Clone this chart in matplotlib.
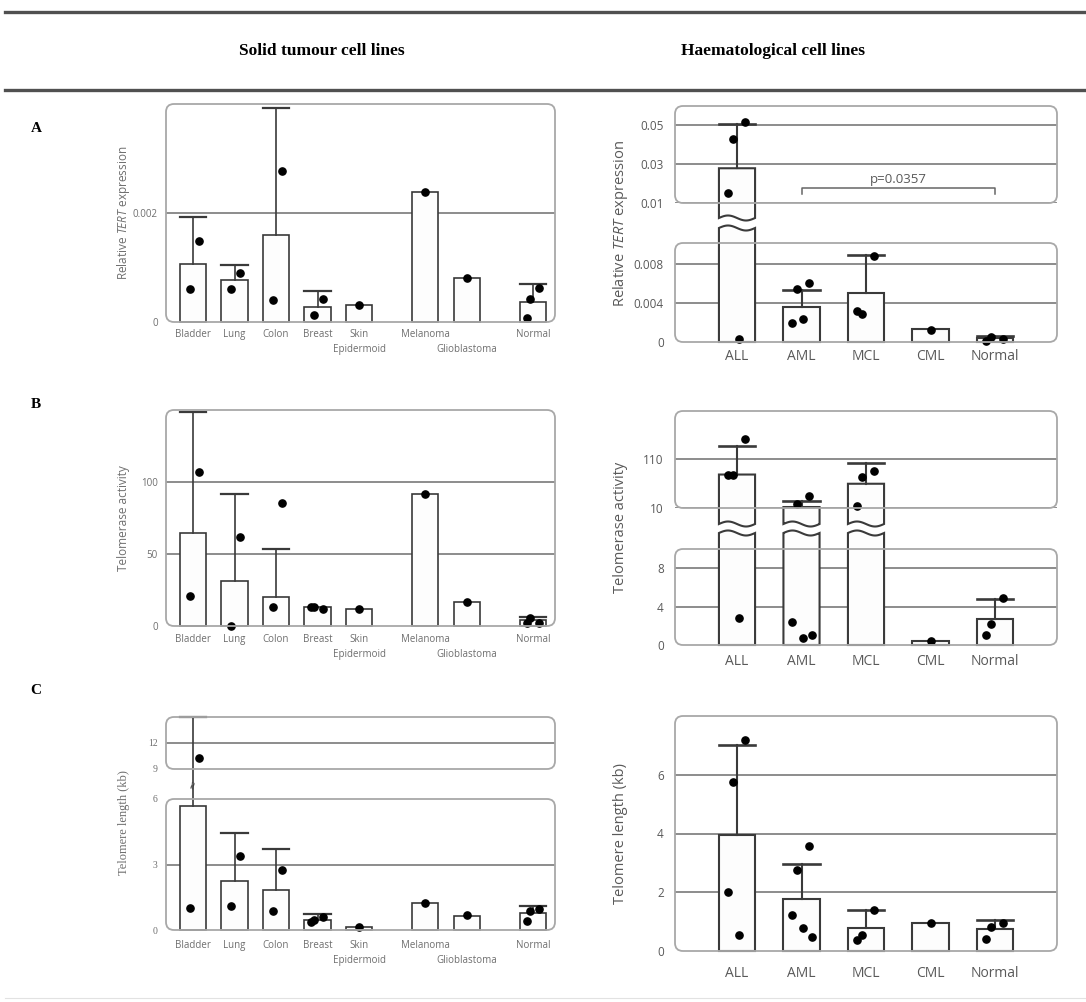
import numpy as np
import matplotlib
matplotlib.use('Agg')
import matplotlib.pyplot as plt
from matplotlib.patches import FancyBboxPatch, Polygon
from matplotlib.lines import Line2D

plt.rcParams['font.family'] = ['Open Sans', 'DejaVu Sans']
plt.rcParams['mathtext.fontset'] = 'custom'
plt.rcParams['mathtext.rm'] = 'Open Sans'
plt.rcParams['mathtext.it'] = 'Open Sans:italic'

# ---- data ----
# second-row labels (staggered in the original) are given after the '|'
solid_labels = ['Bladder', 'Lung', 'Colon', 'Breast', 'Skin|Epidermoid',
                'Melanoma', '|Glioblastoma', 'Normal']
haem_labels = ['ALL', 'AML', 'MCL', 'CML', 'Normal']

# A - relative TERT expression
tert_solid_mean = [0.00106, 0.00077, 0.0016, 0.00027, 0.00031, 0.00239, 0.00081, 0.00037]
tert_solid_sd = [0.00087, 0.00028, 0.00232, 0.00029, 0, 0, 0, 0.00032]
tert_solid_pts = [[0.00149, 0.00061], [0.0009, 0.00061], [0.00277, 0.0004],
                  [0.00042, 0.00012], [0.00031], [0.00239], [0.00081],
                  [0.00062, 0.00042, 0.00007]]
tert_haem_mean = [0.0278, 0.00353, 0.00503, 0.0013, 0.0004]
tert_haem_sd = [0.0226, 0.0018, 0.0038, 0, 0.0002]
tert_haem_pts = [[0.0514, 0.0428, 0.015, 0.00035], [0.00605, 0.00544, 0.0019, 0.0023],
                 [0.0088, 0.00284, 0.00315], [0.00127], [0.0003, 0.0005, 0.0001]]

# B - telomerase activity
act_solid_mean = [64.4, 31.5, 19.9, 13, 11.5, 92, 16.5, 4]
act_solid_sd = [84.4, 60.5, 33.6, 0, 0, 0, 0, 2.5]
act_solid_pts = [[107, 20.8], [62, 0], [85.6, 13], [12, 13, 13.5], [11.5], [92], [16.5],
                 [2, 5.5, 2.3]]
act_haem_mean = [79, 12, 60, 0.45, 2.75]
act_haem_sd = [58.5, 13, 43, 0, 2.05]
act_haem_pts = [[153, 79, 79, 2.8], [34, 19, 2.4, 0.7, 1.0], [86.5, 74, 13.5], [0.4],
                [4.9, 2.2, 1.0]]

# C - telomere length (kb)
len_solid_mean = [5.68, 2.23, 1.82, 0.46, 0.15, 1.24, 0.66, 0.77]
len_solid_sd = [9.32, 2.23, 1.87, 0.28, 0, 0, 0, 0.31]
len_solid_pts = [[10.27, 1.0], [3.38, 1.08], [2.77, 0.85], [0.6, 0.45, 0.35], [0.15],
                 [1.25], [0.7], [0.95, 0.89, 0.43]]
len_haem_mean = [3.96, 1.78, 0.77, 0.97, 0.76]
len_haem_sd = [3.04, 1.19, 0.62, 0, 0.29]
len_haem_pts = [[7.2, 5.77, 2.0, 0.53], [3.58, 2.77, 1.23, 0.77, 0.47],
                [1.39, 0.54, 0.37], [0.97], [0.95, 0.82, 0.41]]

# ---- layout ----
W, H = 1086, 1002
fig = plt.figure(figsize=(W / 100, H / 100), dpi=100)

LEFT_X = (166, 555)
RIGHT_X = (675, 1057)
left_pos = np.array([0, 1, 2, 3, 4, 5.6, 6.6, 8.2])
right_pos = np.arange(5)
left_xlim = ((166 - 193) / 41.5, (555 - 193) / 41.5)
right_xlim = ((675 - 737) / 64.5, (1057 - 737) / 64.5)

GRID = '#8c8c8c'
FRAME = '#a8a8a8'
EDGE = '#3a3a3a'


def add_frame(x0, x1, y0, y1):
    fig.patches.append(FancyBboxPatch(
        (x0 / 100, (H - y1) / 100), (x1 - x0) / 100, (y1 - y0) / 100,
        boxstyle='round,pad=0,rounding_size=0.08', transform=fig.dpi_scale_trans,
        facecolor='none', edgecolor=FRAME, lw=1.3, zorder=0))


def make_seg(xr, y0, y1, ylim, xlim, grid, ticks, labels, size, color, family=None):
    ax = fig.add_axes([xr[0] / W, 1 - y1 / H, (xr[1] - xr[0]) / W, (y1 - y0) / H])
    ax.set_xlim(xlim)
    ax.set_ylim(ylim)
    ax.patch.set_visible(False)
    for s in ax.spines.values():
        s.set_visible(False)
    ax.set_xticks([])
    ax.set_yticks(ticks)
    ax.set_yticklabels(labels)
    ax.tick_params(axis='y', length=0, pad=6 if size < 8 else 8, labelsize=size,
                   labelcolor=color)
    if family:
        for t in ax.get_yticklabels():
            t.set_family(family)
    for g in grid:
        ax.axhline(g, color=GRID, lw=1.4, zorder=1)
    add_frame(xr[0], xr[1], y0, y1)
    return {'ax': ax, 'lo': ylim[0], 'hi': ylim[1], 'dpp': (ylim[1] - ylim[0]) / (y1 - y0)}


def wavy_bar(ax, x, w, yb, yt, wave, amp, lw):
    xs = np.linspace(x - w / 2, x + w / 2, 40)
    wv = amp * np.sin(2 * np.pi * (xs - xs[0]) / w)
    if wave == 'top':
        px = np.concatenate([[x - w / 2, x + w / 2], xs[::-1]])
        py = np.concatenate([[yb, yb], (yt + wv)[::-1]])
    else:
        px = np.concatenate([xs, [x + w / 2, x - w / 2]])
        py = np.concatenate([yb + wv, [yt, yt]])
    ax.add_patch(Polygon(np.column_stack([px, py]), closed=True, facecolor='#fdfdfd',
                         edgecolor=EDGE, lw=lw, zorder=2, clip_on=False))


def find_seg(segs, v):
    for s in segs[::-1]:
        if v >= s['lo'] and s is not segs[0]:
            return s
    return segs[0]


def draw_group(segs, xs, w, means, sds, pts, lw, ext=15, ms=5.2):
    offs_cycle = [0.22, -0.12, -0.25, 0.05, 0.3]
    for x, m, sd, p in zip(xs, means, sds, pts):
        sm = find_seg(segs, m)
        if sm is segs[0]:
            wavy_bar(sm['ax'], x, w, 0, m, 'top', 0, lw)
        else:
            b = segs[0]
            wavy_bar(b['ax'], x, w, 0, b['hi'] + ext * b['dpp'], 'top', 2.5 * b['dpp'], lw)
            wavy_bar(sm['ax'], x, w, sm['lo'] - ext * sm['dpp'], m, 'bottom',
                     2.5 * sm['dpp'], lw)
        if sd > 0:
            e = m + sd
            se = find_seg(segs, e)
            if se is sm:
                sm['ax'].plot([x, x], [m, e], color=EDGE, lw=lw, zorder=3)
            else:
                sm['ax'].plot([x, x], [m, sm['hi'] + 14 * sm['dpp']], color=EDGE,
                              lw=lw, zorder=3, clip_on=False)
                se['ax'].plot([x, x], [se['lo'] - 14 * se['dpp'], e], color=EDGE,
                              lw=lw, zorder=3, clip_on=False)
                se['ax'].text(x, se['lo'] - 15 * se['dpp'], '\u2248', rotation=75,
                              ha='center', va='center', fontsize=8, color=EDGE,
                              family='DejaVu Sans', zorder=4)
            se['ax'].plot([x - w / 2, x + w / 2], [e, e], color=EDGE, lw=lw + 0.4,
                          zorder=3, clip_on=False)
        n = len(p)
        for k, v in enumerate(p):
            off = 0 if n == 1 else offs_cycle[k % len(offs_cycle)] * w
            sv = find_seg(segs, v)
            sv['ax'].plot(x + off, v, 'o', color='black', ms=ms, zorder=5, clip_on=False)


def xlabels(ax, xs, labels, dy, size, color, row_gap=15):
    for x, lab in zip(xs, labels):
        parts = lab.split('|')
        for r, txt in enumerate(parts):
            if not txt:
                continue
            ax.annotate(txt, (x, 0), xycoords=('data', 'axes fraction'),
                        xytext=(0, -dy - r * row_gap), textcoords='offset pixels',
                        ha='center', va='top', fontsize=size, color=color)


LC = '#6e6e6e'
RC = '#595959'
LS = 7
RS = 8.5
LX = 7

# ---- panel A ----
aL = make_seg(LEFT_X, 104, 322, (0, 0.004), left_xlim, [0.002], [0, 0.002],
              ['0', '0.002'], LS, LC)
draw_group([aL], left_pos, 0.63, tert_solid_mean, tert_solid_sd, tert_solid_pts, 1.2)
xlabels(aL['ax'], left_pos, solid_labels, 7, LX, LC)

aRb = make_seg(RIGHT_X, 243, 342, (0, 0.0101), right_xlim, [0.004, 0.008],
               [0, 0.004, 0.008], ['0', '0.004', '0.008'], RS, RC)
aRt = make_seg(RIGHT_X, 106, 203, (0.01, 0.0597), right_xlim, [0.01, 0.03, 0.05],
               [0.01, 0.03, 0.05], ['0.01', '0.03', '0.05'], RS, RC)
draw_group([aRb, aRt], right_pos, 0.56, tert_haem_mean, tert_haem_sd, tert_haem_pts, 1.5)
xlabels(aRb['ax'], right_pos, haem_labels, 7, 10, RC)
axt = aRt['ax']
axt.plot([1, 1, 4, 4], [0.0146, 0.0177, 0.0177, 0.0146], color='#666666', lw=1.1)
axt.text(2.5, 0.0185, 'p=0.0357', ha='center', va='bottom', fontsize=9.5, color=RC)

# ---- panel B ----
bL = make_seg(LEFT_X, 410, 626, (0, 150), left_xlim, [50, 100], [0, 50, 100],
              ['0', '50', '100'], LS, LC)
draw_group([bL], left_pos, 0.63, act_solid_mean, act_solid_sd, act_solid_pts, 1.2)
xlabels(bL['ax'], left_pos, solid_labels, 8, LX, LC)

bRb = make_seg(RIGHT_X, 549, 645, (0, 10), right_xlim, [4, 8], [0, 4, 8],
               ['0', '4', '8'], RS, RC)
bRt = make_seg(RIGHT_X, 411, 508, (10, 210), right_xlim, [10, 110], [10, 110],
               ['10', '110'], RS, RC)
draw_group([bRb, bRt], right_pos, 0.56, act_haem_mean, act_haem_sd, act_haem_pts, 1.5,
           ext=16)
xlabels(bRb['ax'], right_pos, haem_labels, 9, 10, RC)

# ---- panel C ----
cLb = make_seg(LEFT_X, 799, 930, (0, 6), left_xlim, [3], [0, 3, 6], ['0', '3', '6'],
               LS, LC, family='Liberation Serif')
cLt = make_seg(LEFT_X, 717, 769, (9, 15), left_xlim, [12], [9, 12], ['9', '12'],
               LS, LC, family='Liberation Serif')
draw_group([cLb, cLt], left_pos, 0.63, len_solid_mean, len_solid_sd, len_solid_pts, 1.2)
xlabels(cLb['ax'], left_pos, solid_labels, 10, LX, LC)

cR = make_seg(RIGHT_X, 716, 951, (0, 8), right_xlim, [2, 4, 6], [0, 2, 4, 6],
              ['0', '2', '4', '6'], RS, RC)
draw_group([cR], right_pos, 0.56, len_haem_mean, len_haem_sd, len_haem_pts, 1.5)
xlabels(cR['ax'], right_pos, haem_labels, 15, 10, RC)


# ---- y labels ----
def ylab(xp, yp, s, size, color, family=None):
    fig.text(xp / W, 1 - yp / H, s, rotation=90, ha='center', va='center',
             fontsize=size, color=color, family=family or ['Open Sans', 'DejaVu Sans'])


ylab(124, 213, r'Relative $\mathit{TERT}$ expression', 8.5, LC)
ylab(124, 518, 'Telomerase activity', 8.5, LC)
ylab(124, 823, 'Telomere length (kb)', 9, LC, family='Liberation Serif')
ylab(620, 224, r'Relative $\mathit{TERT}$ expression', 10.5, RC)
ylab(620, 527, 'Telomerase activity', 10.5, RC)
ylab(620, 833, 'Telomere length (kb)', 10.5, RC)

# ---- header & panel letters ----
for yy in (12, 90):
    fig.add_artist(Line2D([5 / W, 1], [1 - yy / H] * 2, color='#505050', lw=2.4))
fig.add_artist(Line2D([5 / W, 1], [1 - 998 / H] * 2, color='#e2e2e2', lw=0.8))
fig.text(322 / W, 1 - 51 / H, 'Solid tumour cell lines', ha='center', va='center',
         fontsize=12.5, weight='bold', family='Liberation Serif')
fig.text(773 / W, 1 - 51 / H, 'Haematological cell lines', ha='center', va='center',
         fontsize=12.5, weight='bold', family='Liberation Serif')
for letter, yy in (('A', 128), ('B', 405), ('C', 690)):
    fig.text(36 / W, 1 - yy / H, letter, ha='center', va='center', fontsize=11,
             weight='bold', family='Liberation Serif')

fig.savefig('out.png', dpi=100)
